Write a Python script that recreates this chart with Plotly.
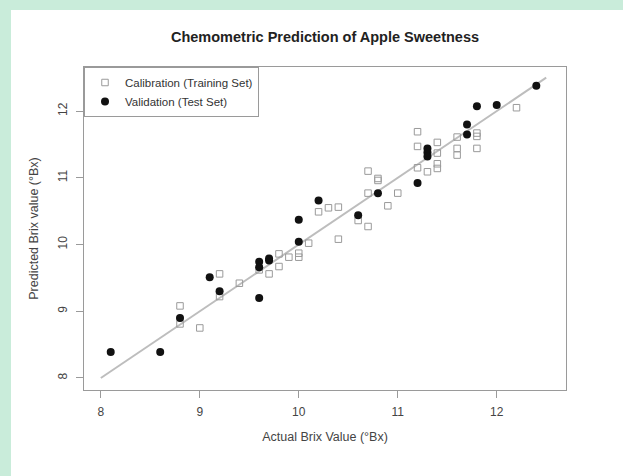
import plotly.graph_objects as go

# Calibration (training set)
cal_actual = [8.8, 8.8, 9.0, 9.2, 9.2, 9.4, 9.6, 9.7, 9.8, 9.8, 9.9, 10.0, 10.0, 10.1,
              10.2, 10.3, 10.4, 10.4, 10.6, 10.7, 10.7, 10.7, 10.8, 10.8, 10.9, 11.0,
              11.2, 11.2, 11.2, 11.3, 11.4, 11.4, 11.4, 11.4, 11.6, 11.6, 11.6,
              11.8, 11.8, 11.8, 12.2]
cal_pred = [9.08, 8.81, 8.75, 9.56, 9.22, 9.42, 9.62, 9.56, 9.67, 9.86, 9.81, 9.87, 9.81, 10.02,
            10.49, 10.55, 10.56, 10.08, 10.36, 10.27, 10.77, 11.10, 10.96, 10.99, 10.58, 10.77,
            11.69, 11.47, 11.15, 11.09, 11.53, 11.37, 11.21, 11.14, 11.61, 11.44, 11.34,
            11.67, 11.62, 11.44, 12.05]

# Validation (test set)
val_actual = [8.1, 8.6, 8.8, 9.1, 9.2, 9.6, 9.6, 9.6, 9.7, 9.7, 10.0, 10.0, 10.2, 10.6,
              10.8, 11.2, 11.3, 11.3, 11.3, 11.7, 11.7, 11.8, 12.0, 12.4]
val_pred = [8.39, 8.39, 8.90, 9.51, 9.30, 9.20, 9.74, 9.66, 9.76, 9.79, 10.37, 10.04, 10.66, 10.44,
            10.77, 10.92, 11.44, 11.38, 11.32, 11.80, 11.65, 12.07, 12.09, 12.38]

# 1:1 reference line
line_x = [8.0, 12.5]
line_y = [8.0, 12.5]

tick_vals = [8, 9, 10, 11, 12]
tick_text = ["8", "9", "10", "11", "12"]

FONT = "Liberation Sans, Arial, sans-serif"
W, H = 623, 476
ML, MR, MT, MB = 84, 57, 67, 86
PW, PH = W - ML - MR, H - MT - MB

fig = go.Figure()
fig.add_trace(go.Scatter(x=line_x, y=line_y, mode="lines",
                         line=dict(color="#bdbdbd", width=2),
                         showlegend=False, hoverinfo="skip"))
fig.add_trace(go.Scatter(x=cal_actual, y=cal_pred, mode="markers",
                         name="Calibration (Training Set)",
                         marker=dict(symbol="square-open", size=6.5,
                                     color="#9a9a9a", line=dict(width=1, color="#9a9a9a"))))
fig.add_trace(go.Scatter(x=val_actual, y=val_pred, mode="markers",
                         name="Validation (Test Set)",
                         marker=dict(symbol="circle", size=8, color="#111111")))

# white panel on the green page
fig.add_shape(type="rect", xref="paper", yref="paper",
              x0=(11 - ML) / PW, x1=(W + 5 - ML) / PW,
              y0=(MT + PH - H - 5) / PH, y1=(MT + PH - 10) / PH,
              fillcolor="white", line=dict(width=0), layer="below")

axis_common = dict(showgrid=False, zeroline=False, showline=True, mirror=True,
                   linecolor="#9a9a9a", linewidth=1, ticks="outside", ticklen=7,
                   tickcolor="#9a9a9a", tickwidth=1,
                   tickfont=dict(family=FONT, size=12, color="#444444"),
                   tickvals=tick_vals, ticktext=tick_text)

fig.update_layout(
    width=W, height=H,
    margin=dict(l=ML, r=MR, t=MT, b=MB),
    paper_bgcolor="#c9ecda", plot_bgcolor="white",
    font=dict(family=FONT, color="#444444"),
    title=dict(text="<b>Chemometric Prediction of Apple Sweetness</b>",
               font=dict(family=FONT, size=14.5, color="#222222"),
               x=(ML + PW / 2) / W, xanchor="center", y=1 - 37 / H, yanchor="middle"),
    xaxis=dict(range=[7.83, 12.70],
               title=dict(text="Actual Brix Value (°Bx)", standoff=13,
                          font=dict(family=FONT, size=12.5, color="#444444")),
               ticklabelstandoff=4, **axis_common),
    yaxis=dict(range=[7.82, 12.66], tickangle=-90,
               title=dict(text="Predicted Brix value (°Bx)", standoff=14,
                          font=dict(family=FONT, size=12.5, color="#444444")),
               ticklabelstandoff=4, **axis_common),
    legend=dict(x=0, y=1, xanchor="left", yanchor="top",
                bordercolor="#9a9a9a", borderwidth=1, bgcolor="white",
                font=dict(family=FONT, size=11.5, color="#333333"),
                itemwidth=30, tracegroupgap=0),
)

fig.write_html("out.html", config={"displayModeBar": False},
               post_script="document.body.style.margin='0';document.body.style.overflow='hidden';")
